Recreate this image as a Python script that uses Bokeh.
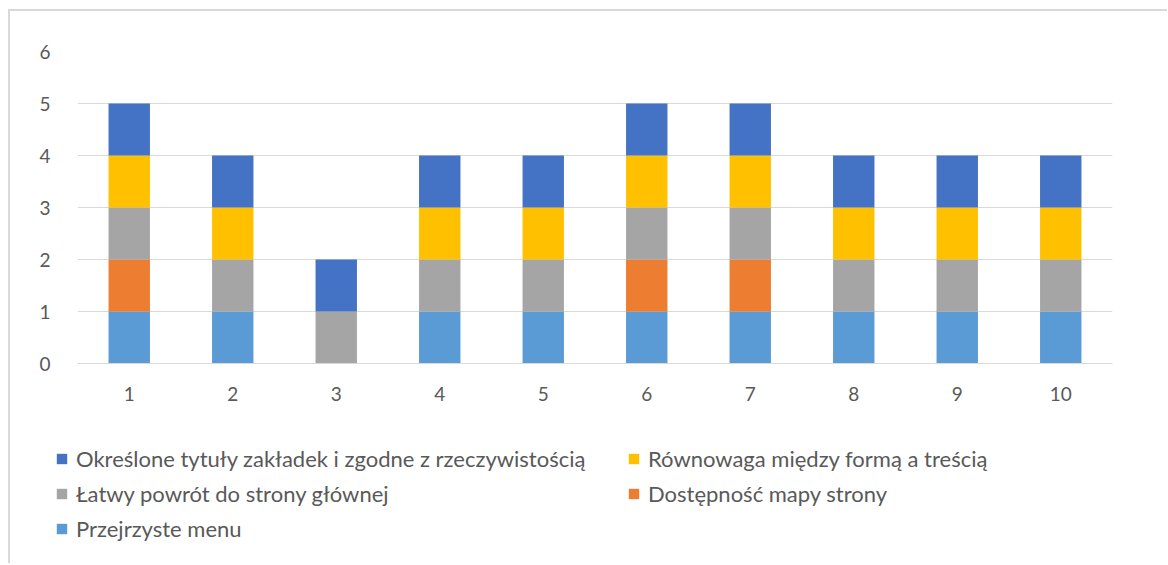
from bokeh.plotting import figure
from bokeh.models import ColumnDataSource, Legend, LegendItem, FactorRange
from bokeh.embed import file_html
from bokeh.resources import INLINE

categories = ["1", "2", "3", "4", "5", "6", "7", "8", "9", "10"]
przejrzyste_menu = [1, 1, 0, 1, 1, 1, 1, 1, 1, 1]
dostepnosc_mapy = [1, 0, 0, 0, 0, 1, 1, 0, 0, 0]
latwy_powrot = [1, 1, 1, 1, 1, 1, 1, 1, 1, 1]
rownowaga = [1, 1, 0, 1, 1, 1, 1, 1, 1, 1]
okreslone = [1, 1, 1, 1, 1, 1, 1, 1, 1, 1]

series_keys = ["menu", "mapa", "powrot", "rownowaga", "okreslone"]
series_labels = [
    "Przejrzyste menu",
    "Dostępność mapy strony",
    "Łatwy powrót do strony głównej",
    "Równowaga między formą a treścią",
    "Określone tytuły zakładek i zgodne z rzeczywistością",
]
colors = ["#5B9BD5", "#ED7D31", "#A5A5A5", "#FFC000", "#4472C4"]
y_ticks = [0, 1, 2, 3, 4, 5, 6]

source = ColumnDataSource(dict(
    x=categories, menu=przejrzyste_menu, mapa=dostepnosc_mapy,
    powrot=latwy_powrot, rownowaga=rownowaga, okreslone=okreslone,
))

FONT = "Lato"
TXT = "#595959"
BORDER = "2px solid #d9d9d9"

p = figure(
    width=1159, height=395,
    x_range=FactorRange(*categories, range_padding=0),
    y_range=(0, 6),
    output_backend="svg", toolbar_location=None,
    min_border_left=67, min_border_right=57, min_border_top=40, min_border_bottom=43,
)
p.styles = {"border-left": BORDER, "border-top": BORDER, "margin-left": "8px", "margin-top": "9px"}
renderers = p.vbar_stack(series_keys, x="x", width=0.4, color=colors, source=source, line_color=None)

p.outline_line_color = None
p.xgrid.grid_line_color = None
p.ygrid.grid_line_color = "#d9d9d9"
p.ygrid.grid_line_width = 1
p.yaxis.ticker = y_ticks
p.yaxis.axis_line_color = None
p.yaxis.major_tick_line_color = None
p.yaxis.minor_tick_line_color = None
p.xaxis.axis_line_color = "#d9d9d9"
p.xaxis.major_tick_line_color = None
p.xaxis.minor_tick_line_color = None
for ax in (p.xaxis[0], p.yaxis[0]):
    ax.major_label_text_font = FONT
    ax.major_label_text_font_size = "19px"
    ax.major_label_text_color = TXT
p.yaxis.major_label_standoff = 21
p.xaxis.major_label_standoff = 17

# legend area: a second root below the chart; its swatch renderers are zero-size bars
lg = figure(
    width=1159, height=159, x_range=(0, 1), y_range=(0, 1),
    output_backend="svg", toolbar_location=None,
    x_axis_location=None, y_axis_location=None,
    min_border=0,
)
lg.styles = {"border-left": BORDER, "margin-left": "8px"}
lg.grid.visible = False
lg.outline_line_color = None
swatch_src = ColumnDataSource(dict(x=[0], top=[0]))
swatches = [lg.vbar(x="x", top="top", width=0, color=c, line_color=None, source=swatch_src)
            for c in colors]

order = [4, 2, 0, 3, 1]
items = [LegendItem(label=series_labels[i], renderers=[swatches[i]]) for i in order]
legend = Legend(items=items, ncols=2, location=(45, 21))
legend.label_text_font = FONT
legend.label_text_font_size = "22px"
legend.label_text_color = TXT
legend.glyph_width = 13
legend.glyph_height = 13
legend.label_standoff = 8
legend.spacing = 8
legend.label_width = 543
legend.padding = 0
legend.margin = 0
legend.border_line_color = None
legend.background_fill_alpha = 0
lg.add_layout(legend, "center")

open("out.html", "w").write(file_html([p, lg], INLINE))
